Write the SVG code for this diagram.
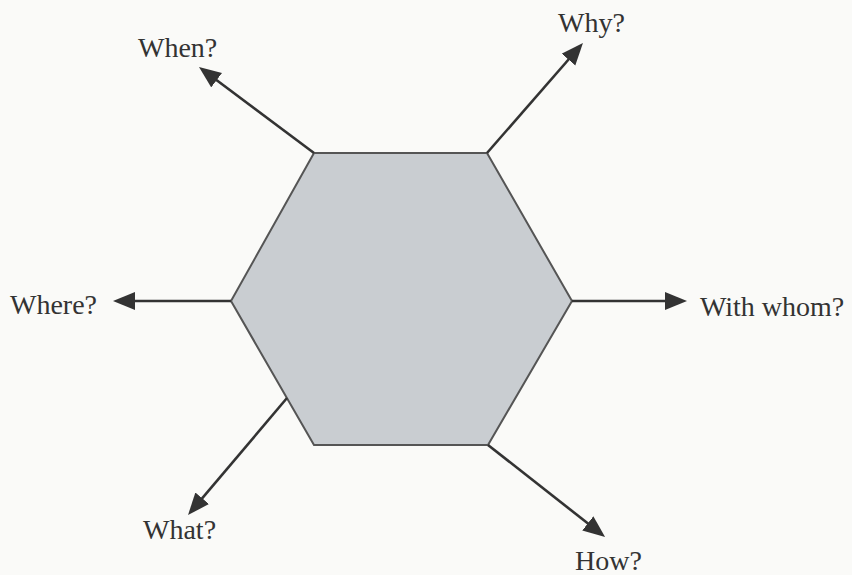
<svg xmlns="http://www.w3.org/2000/svg" width="852" height="575" viewBox="0 0 852 575">
<style>
.lbl{font-family:"Liberation Serif","Times New Roman",serif;font-size:28px;fill:#333}
.con{stroke:#333;stroke-width:2.6;fill:none;marker-end:url(#ah)}
</style>
<defs>
<marker id="ah" markerUnits="userSpaceOnUse" markerWidth="24" markerHeight="20" refX="14" refY="9" orient="auto">
<path d="M0,0 L22,9 L0,18 Z" fill="#333"/>
</marker>
</defs>
<rect width="852" height="575" fill="#fafaf8"/>
<g id="hexagon">
<polygon points="314,153 487,153 572,301 488,445 314,445 231,301" fill="#c9cdd1" stroke="#555" stroke-width="2"/>
</g>
<g id="connectors">
<line class="con" x1="314" y1="153" x2="205.4" y2="71.8"/>
<line class="con" x1="487" y1="153" x2="577.7" y2="49"/>
<line class="con" x1="231" y1="301" x2="121" y2="301"/>
<line class="con" x1="572" y1="301" x2="679" y2="301"/>
<line class="con" x1="287" y1="398" x2="193.2" y2="508.9"/>
<line class="con" x1="488" y1="445" x2="598.8" y2="532"/>
</g>
<g id="when"><text class="lbl" x="138" y="57">When?</text></g>
<g id="why"><text class="lbl" x="558" y="32">Why?</text></g>
<g id="where"><text class="lbl" x="10" y="314">Where?</text></g>
<g id="withwhom"><text class="lbl" x="700" y="316">With whom?</text></g>
<g id="what"><text class="lbl" x="143" y="539">What?</text></g>
<g id="how"><text class="lbl" x="575" y="570">How?</text></g>
</svg>
